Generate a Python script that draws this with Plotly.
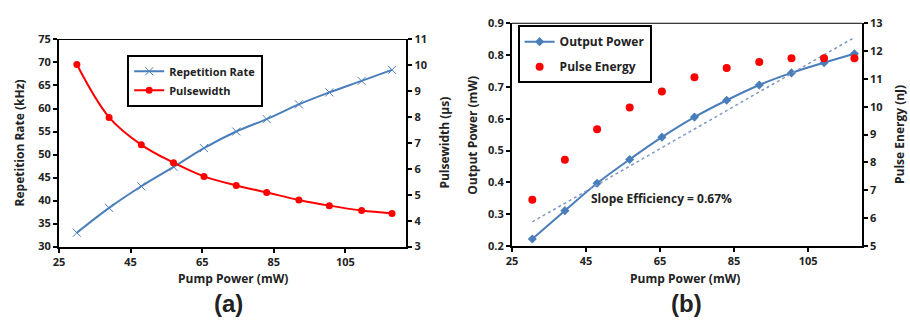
import numpy as np
import plotly.graph_objects as go

# ---------------- data ----------------
pump_a = [30, 39, 48, 57, 65.5, 74.5, 83, 92, 100.5, 109.5, 118]
rep_rate = [33.0, 38.4, 43.1, 47.3, 51.4, 55.0, 57.7, 60.9, 63.5, 66.0, 68.4]
pulsewidth = [10.03, 7.99, 6.93, 6.24, 5.71, 5.36, 5.09, 4.80, 4.58, 4.39, 4.28]

pump_b = [30.5, 39.3, 48, 56.8, 65.5, 74.3, 83, 91.8, 100.5, 109.3, 117.5]
out_power = [0.222, 0.311, 0.397, 0.472, 0.542, 0.605, 0.658, 0.706, 0.744, 0.776, 0.804]
pulse_energy = [6.66, 8.10, 9.19, 9.97, 10.55, 11.06, 11.39, 11.61, 11.74, 11.74, 11.74]

# tick labels
x_ticks = [25, 45, 65, 85, 105]
rep_ticks = [30, 35, 40, 45, 50, 55, 60, 65, 70, 75]
pw_ticks = [3, 4, 5, 6, 7, 8, 9, 10, 11]
op_ticks = [0.2, 0.3, 0.4, 0.5, 0.6, 0.7, 0.8, 0.9]
pe_ticks = [5, 6, 7, 8, 9, 10, 11, 12, 13]

# linear trendline of output power (Excel-style)
coef = np.polyfit(pump_b, out_power, 1)
trend_x = [pump_b[0], pump_b[-1]]
trend_y = [float(np.polyval(coef, v)) for v in trend_x]

BLUE = "#4A7EBB"
RED = "#FF0000"
FONT = "Open Sans"
TICKF = dict(family=FONT, size=11, color="#222")


def bold_ticks(vals, fmt="{:g}"):
    return dict(tickmode="array", tickvals=vals, ticktext=[f"<b>{fmt.format(v)}</b>" for v in vals])


fig = go.Figure()

fig.add_trace(go.Scatter(x=pump_a, y=rep_rate, name="<b>Repetition Rate</b>", mode="lines+markers",
                         line=dict(color=BLUE, width=2, shape="spline"),
                         marker=dict(symbol="x-thin", size=8, line=dict(color=BLUE, width=1)),
                         xaxis="x", yaxis="y", legend="legend", legendgroup="a1"))
fig.add_trace(go.Scatter(x=pump_a, y=pulsewidth, name="<b>Pulsewidth</b>", mode="lines+markers",
                         line=dict(color=RED, width=2, shape="spline"),
                         marker=dict(symbol="circle", size=7, color=RED),
                         xaxis="x", yaxis="y2", legend="legend", legendgroup="a2"))

fig.add_trace(go.Scatter(x=pump_b, y=out_power, name="<b>Output Power</b>", mode="lines+markers",
                         line=dict(color=BLUE, width=2, shape="spline"),
                         marker=dict(symbol="diamond", size=7, color=BLUE),
                         xaxis="x2", yaxis="y3", legend="legend2", legendgroup="b1"))
fig.add_trace(go.Scatter(x=trend_x, y=trend_y, name="trend", mode="lines",
                         line=dict(color="#7D9AC0", width=1.5, dash="dot"),
                         showlegend=False, xaxis="x2", yaxis="y3"))
fig.add_trace(go.Scatter(x=pump_b, y=pulse_energy, name="<b>Pulse Energy</b>", mode="markers",
                         marker=dict(symbol="circle", size=8, color=RED),
                         xaxis="x2", yaxis="y4", legend="legend2", legendgroup="b2"))

axis_common = dict(showgrid=False, zeroline=False, showline=True, linecolor="black", linewidth=2,
                   ticks="outside", ticklen=4, tickcolor="black", tickwidth=1.5,
                   tickfont=TICKF)

xa_dom = [53.3 / 910, 403 / 910]
xb_dom = [509.3 / 910, 861.5 / 910]
ya_dom = [(327 - 250) / 327, (327 - 33) / 327]
yb_dom = [(327 - 249.4) / 327, (327 - 16) / 327]

fig.update_layout(
    width=910, height=327, margin=dict(l=0, r=0, t=0, b=0),
    paper_bgcolor="white", plot_bgcolor="white",
    xaxis=dict(domain=xa_dom, range=[25, 122], anchor="y", **bold_ticks(x_ticks), **axis_common),
    yaxis=dict(domain=ya_dom, range=[30, 75], anchor="x", **bold_ticks(rep_ticks), **axis_common),
    yaxis2=dict(domain=ya_dom, range=[3, 11], overlaying="y", side="right", anchor="x",
                **bold_ticks(pw_ticks), **axis_common),
    xaxis2=dict(domain=xb_dom, range=[25, 119.5], anchor="y3", **bold_ticks(x_ticks), **axis_common),
    yaxis3=dict(domain=yb_dom, range=[0.2, 0.9], anchor="x2", **bold_ticks(op_ticks, "{:.1f}"), **axis_common),
    yaxis4=dict(domain=yb_dom, range=[5, 13], overlaying="y3", side="right", anchor="x2",
                **bold_ticks(pe_ticks), **axis_common),
    legend=dict(x=122 / 910, y=1 - 49 / 327, xanchor="left", yanchor="top",
                bordercolor="black", borderwidth=2, bgcolor="white",
                font=dict(family=FONT, size=11, color="#222"), tracegroupgap=0,
                itemwidth=30),
    legend2=dict(x=515 / 910, y=1 - 18 / 327, xanchor="left", yanchor="top",
                 bordercolor="black", borderwidth=2, bgcolor="white",
                 font=dict(family=FONT, size=12, color="#222"), tracegroupgap=6,
                 itemwidth=30),
    showlegend=True,
)

# thin top border of each plot area
for xr, yr in [("x", "y"), ("x2", "y3")]:
    fig.add_shape(type="line", xref=f"{xr} domain", yref=f"{yr} domain", x0=0, x1=1, y0=1, y1=1,
                  line=dict(color="black", width=1))


def ann(text, x, y, size=12, angle=0, family=FONT, bold=True):
    fig.add_annotation(text=f"<b>{text}</b>" if bold else text, x=x / 910, y=1 - y / 327,
                       xref="paper", yref="paper", showarrow=False, textangle=angle,
                       font=dict(family=family, size=size, color="#222"),
                       xanchor="center", yanchor="middle")


ann("Repetition Rate (kHz)", 14, 141, angle=-90)
ann("Pulsewidth (µs)", 441, 141, angle=-90)
ann("Pump Power (mW)", 229, 284)
ann("(a)", 224, 310, size=24, family="Arial")

ann("Output Power (mW)", 470, 133, angle=-90)
ann("Pulse Energy (nJ)", 900, 133, angle=-90)
ann("Pump Power (mW)", 684, 284)
ann("(b)", 685, 310, size=24, family="Arial")
ann("Slope Efficiency = 0.67%", 660, 200)

fig.write_html("out.html")
